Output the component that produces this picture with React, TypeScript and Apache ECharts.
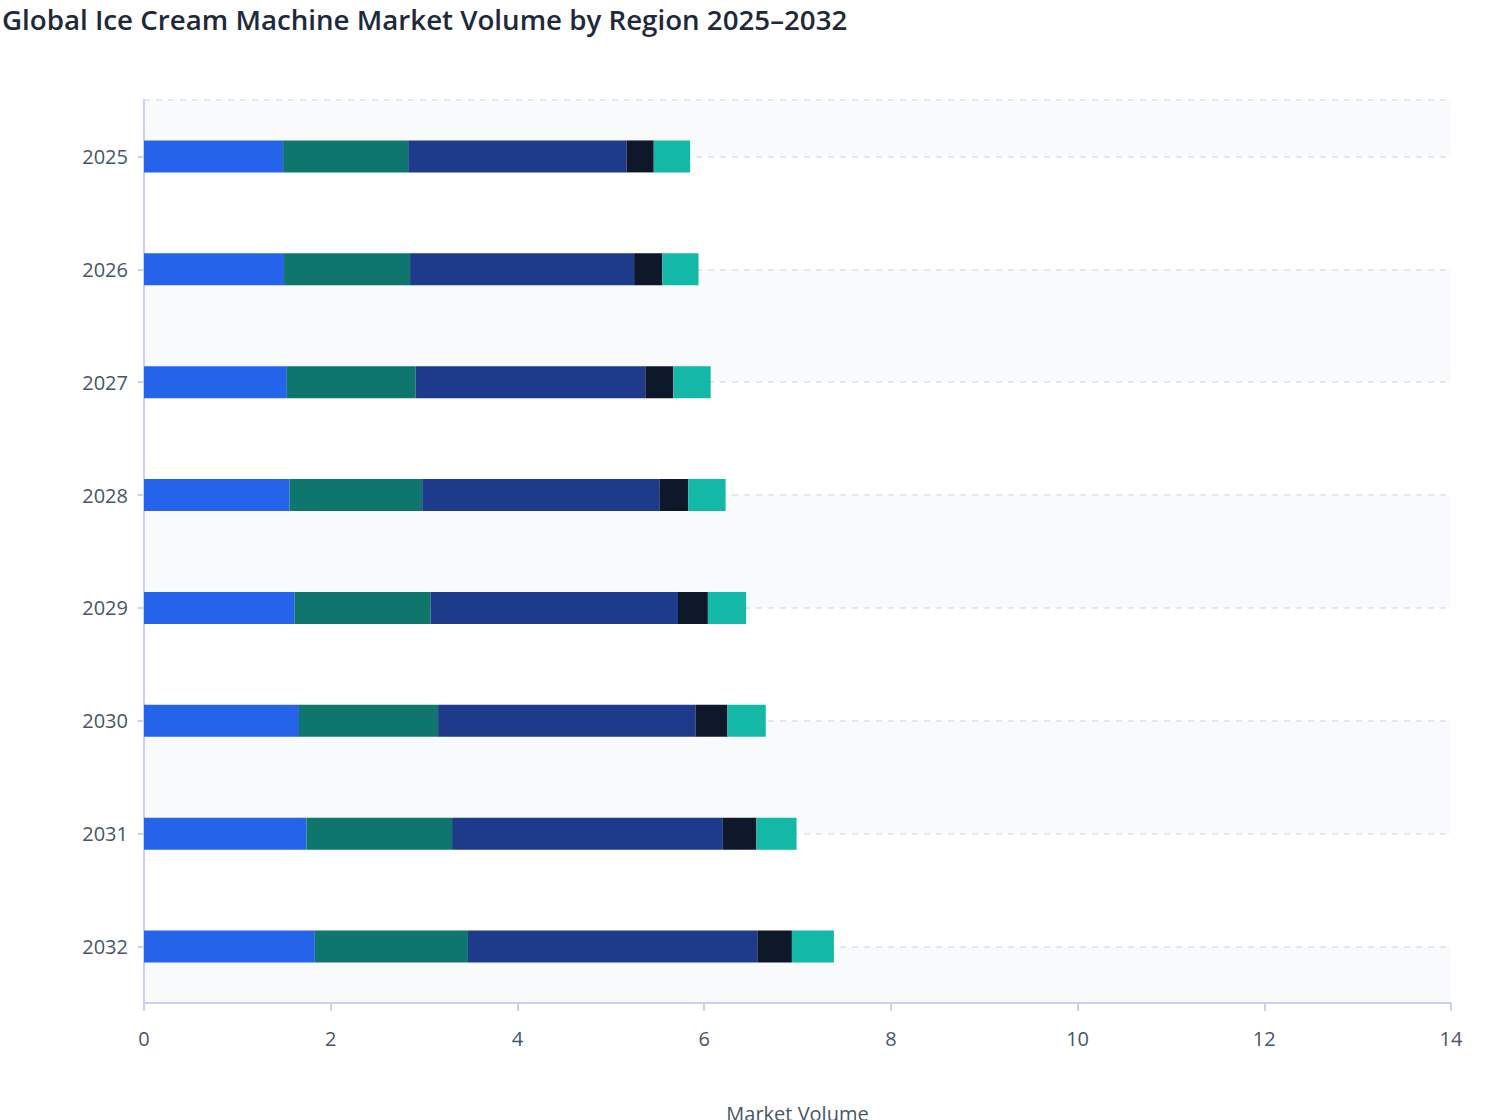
import React, { useEffect, useRef } from "react";
import * as echarts from "echarts";

const years = ["2025", "2026", "2027", "2028", "2029", "2030", "2031", "2032"];
const seriesNames = ["North America", "Europe", "Asia Pacific", "Middle East & Africa", "Latin America"];
const northAmerica = [1.49, 1.5, 1.53, 1.56, 1.61, 1.66, 1.74, 1.83];
const europe = [1.34, 1.35, 1.38, 1.42, 1.46, 1.49, 1.56, 1.64];
const asiaPacific = [2.34, 2.4, 2.46, 2.54, 2.65, 2.76, 2.9, 3.1];
const middleEastAfrica = [0.29, 0.3, 0.3, 0.31, 0.32, 0.34, 0.36, 0.37];
const latinAmerica = [0.39, 0.39, 0.4, 0.4, 0.41, 0.41, 0.43, 0.45];
const seriesValues = [northAmerica, europe, asiaPacific, middleEastAfrica, latinAmerica];
const colors = ["#2563eb", "#0f766e", "#1e3a8a", "#0f172a", "#14b8a6"];

const FONT = "'Open Sans', 'Noto Sans', sans-serif";
const AXIS = "#c7d2f0";
const SHADE = "#f8fafc";

const GRID_LEFT = 144;
const GRID_RIGHT = 57;
const GRID_TOP = 100;
const GRID_BOTTOM = 117;
const W = 1508;
const H = 1120;

export default function App() {
  const ref = useRef<HTMLDivElement>(null);
  useEffect(() => {
    document.body.style.margin = "0";
    if (!ref.current) return;
    const chart = echarts.init(ref.current, null, { renderer: "svg" });
    const plotW = W - GRID_LEFT - GRID_RIGHT;
    const plotH = H - GRID_TOP - GRID_BOTTOM;
    const half = plotH / years.length / 2;
    chart.setOption({
      animation: false,
      textStyle: { fontFamily: FONT },
      title: {
        text: "Global Ice Cream Machine Market Volume by Region 2025–2032",
        left: -3,
        top: 0,
        textStyle: { fontSize: 27.7, fontWeight: 600, color: "#1e293b", fontFamily: FONT },
      },
      grid: {
        left: GRID_LEFT,
        right: GRID_RIGHT,
        top: GRID_TOP,
        bottom: GRID_BOTTOM,
        containLabel: false,
        outerBoundsMode: "none",
      },
      graphic: [
        {
          type: "rect",
          shape: { x: GRID_LEFT, y: GRID_TOP, width: plotW, height: half },
          style: { fill: SHADE },
          z: -10,
          silent: true,
        },
        {
          type: "rect",
          shape: { x: GRID_LEFT, y: GRID_TOP + plotH - half, width: plotW, height: half },
          style: { fill: SHADE },
          z: -10,
          silent: true,
        },
        {
          type: "line",
          shape: { x1: GRID_LEFT, y1: GRID_TOP, x2: GRID_LEFT + plotW, y2: GRID_TOP },
          style: { stroke: "#e5e7eb", lineWidth: 2, lineDash: [6, 6] },
          z: -5,
          silent: true,
        },
      ],
      xAxis: {
        type: "value",
        min: 0,
        max: 14,
        interval: 2,
        name: "Market Volume",
        nameLocation: "middle",
        nameGap: 100,
        nameTextStyle: { fontSize: 20, color: "#475569" },
        axisLine: { show: true, lineStyle: { color: AXIS, width: 2 } },
        axisTick: { show: true, length: 8, lineStyle: { color: AXIS, width: 2 } },
        axisLabel: { fontSize: 20, color: "#475569", margin: 25 },
        splitLine: { show: false },
        z: 5,
      },
      yAxis: {
        type: "category",
        data: years,
        inverse: true,
        axisLine: { show: true, lineStyle: { color: AXIS, width: 2 } },
        axisTick: { show: true, alignWithLabel: true, length: 6, lineStyle: { color: AXIS, width: 2 } },
        axisLabel: { fontSize: 20, color: "#475569", margin: 16 },
        splitLine: {
          show: true,
          alignWithLabel: true,
          lineStyle: { color: "#e5e7eb", type: [6, 6], width: 2 },
        },
        splitArea: {
          show: true,
          alignWithLabel: true,
          areaStyle: { color: ["#ffffff", SHADE] },
        },
      },
      series: seriesNames.map((name, i) => ({
        name,
        type: "bar",
        stack: "total",
        data: seriesValues[i],
        barWidth: 32,
        itemStyle: { color: colors[i] },
      })),
    });
    return () => chart.dispose();
  }, []);
  return <div ref={ref} style={{ width: W, height: H }} />;
}
